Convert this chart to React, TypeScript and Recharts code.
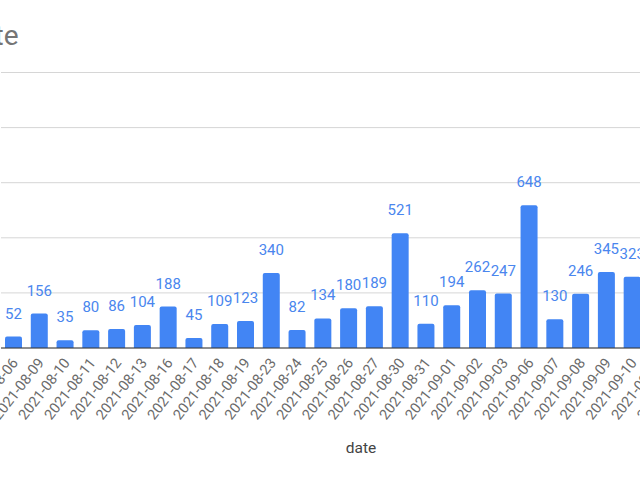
import * as React from "react";
import { Bar, BarChart, CartesianGrid, LabelList, XAxis, YAxis } from "recharts";

const dates = [
  "2021-08-06", "2021-08-09", "2021-08-10", "2021-08-11", "2021-08-12", "2021-08-13",
  "2021-08-16", "2021-08-17", "2021-08-18", "2021-08-19", "2021-08-23", "2021-08-24",
  "2021-08-25", "2021-08-26", "2021-08-27", "2021-08-30", "2021-08-31", "2021-09-01",
  "2021-09-02", "2021-09-03", "2021-09-06", "2021-09-07", "2021-09-08", "2021-09-09",
  "2021-09-10", "2021-09-13", "2021-09-14",
];

// the last two fall outside the cropped picture, so their values are unknown
const counts: (number | null)[] = [
  52, 156, 35, 80, 86, 104, 188, 45, 109, 123, 340, 82,
  134, 180, 189, 521, 110, 194, 262, 247, 648, 130, 246, 345,
  323, null, null,
];

const yTicks = [0, 250, 500, 750, 1000, 1250];

const data = dates.map((date, i) => ({ date, count: counts[i] }));

const font = "Roboto, 'Noto Sans', sans-serif";

function DateTick(props: any) {
  const { x, y, payload } = props;
  const tx = x + 5;
  const ty = y + 15;
  return (
    <text
      x={tx}
      y={ty}
      transform={`rotate(-52, ${tx}, ${ty})`}
      textAnchor="end"
      fontSize={14.5}
      fontFamily={font}
      fill="#6a6a6a"
    >
      {payload.value}
    </text>
  );
}

export default function App() {
  return (
    <div
      style={{
        position: "fixed",
        left: 0,
        top: 0,
        width: 640,
        height: 480,
        overflow: "hidden",
        background: "#ffffff",
      }}
    >
      <div style={{ position: "absolute", left: -59.4, top: 0 }}>
        <BarChart
          width={766}
          height={480}
          data={data}
          margin={{ top: 72.5, right: 10, bottom: 32, left: 0 }}
        >
          <CartesianGrid vertical={false} stroke="#d6d6d6" />
          {/* the value labels sit left of the cropped edge, out of view */}
          <YAxis
            width={60}
            domain={[0, 1250]}
            ticks={yTicks}
            axisLine={false}
            tickLine={false}
            tickMargin={14}
            tick={{ fontSize: 13, fontFamily: font, fill: "#6f6f6f" }}
          />
          <XAxis
            dataKey="date"
            height={100}
            interval={0}
            tickLine={false}
            tickSize={0}
            tickMargin={0}
            axisLine={{ stroke: "#333333" }}
            tick={<DateTick />}
          />
          <Bar
            dataKey="count"
            fill="#4285f4"
            barSize={17}
            radius={[2, 2, 0, 0]}
            isAnimationActive={false}
          >
            <LabelList
              dataKey="count"
              position="top"
              offset={18}
              fontSize={15}
              fontFamily={font}
              fill="#4a86ee"
            />
          </Bar>
        </BarChart>
      </div>
      <svg
        width={640}
        height={480}
        style={{ position: "absolute", left: 0, top: 0, pointerEvents: "none" }}
      >
        <text x={18.5} y={45} textAnchor="end" fontSize={28} fontFamily={font} fill="#757575">
          count vs. date
        </text>
        <text x={361} y={453} textAnchor="middle" fontSize={15.5} fontFamily={font} fill="#444444">
          date
        </text>
      </svg>
    </div>
  );
}
